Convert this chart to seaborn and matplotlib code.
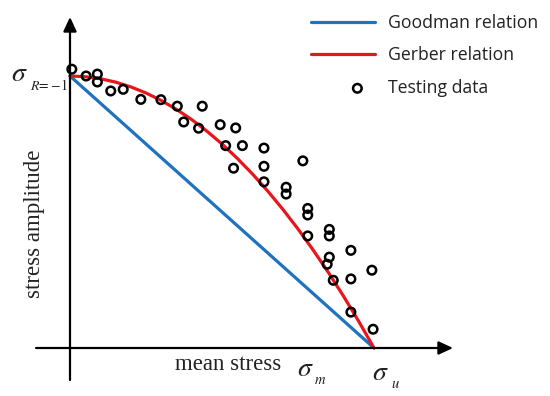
import matplotlib
matplotlib.use("Agg")
import matplotlib.pyplot as plt
import seaborn as sns
from matplotlib.legend_handler import HandlerPathCollection

# ---- data (normalised: sigma_m / sigma_u, sigma_a / sigma_R=-1) ----
goodman_x = [0.0, 1.0]
goodman_y = [1.0, 0.0]

gerber_x = [0.0, 0.05, 0.1, 0.15, 0.2, 0.25, 0.3, 0.35, 0.4, 0.45, 0.5, 0.55,
            0.6, 0.65, 0.7, 0.75, 0.8, 0.85, 0.9, 0.95, 1.0]
gerber_y = [1.0, 0.9975, 0.99, 0.9775, 0.96, 0.9375, 0.91, 0.8775, 0.84, 0.7975,
            0.75, 0.6975, 0.64, 0.5775, 0.51, 0.4375, 0.36, 0.2775, 0.19, 0.0975, 0.0]

test_x = [0.006, 0.053, 0.090, 0.090, 0.134, 0.175, 0.233, 0.299, 0.353, 0.435,
          0.374, 0.423, 0.494, 0.545, 0.512, 0.567, 0.538, 0.638, 0.638, 0.638,
          0.766, 0.711, 0.711, 0.782, 0.782, 0.782, 0.853, 0.853, 0.924, 0.853,
          0.846, 0.993, 0.866, 0.924, 0.924, 0.997]
test_y = [1.025, 1.000, 1.007, 0.978, 0.945, 0.951, 0.914, 0.913, 0.889, 0.889,
          0.831, 0.808, 0.821, 0.809, 0.744, 0.744, 0.661, 0.735, 0.668, 0.611,
          0.688, 0.591, 0.566, 0.513, 0.489, 0.412, 0.436, 0.412, 0.359, 0.334,
          0.308, 0.286, 0.249, 0.254, 0.132, 0.069]

labels = ["Goodman relation", "Gerber relation", "Testing data"]

sns.set_style("white")
plt.rcParams["font.family"] = ["Open Sans", "DejaVu Sans"]
plt.rcParams["mathtext.fontset"] = "stix"

fig = plt.figure(figsize=(5.5, 3.96), dpi=100)
ax = fig.add_axes([0, 0, 1, 1])
ax.set_xlim(-70 / 304, 480 / 304)
ax.set_ylim(-48 / 272, 348 / 272)
ax.axis("off")


def px(x, y):
    return (x - 70) / 304, (348 - y) / 272


blue = "#1f72c0"
red = "#e8161c"
ink = "#222222"

# axes with arrows
arrow = dict(arrowstyle="-|>,head_length=0.86,head_width=0.4", color="black",
             lw=1.6, shrinkA=0, shrinkB=0)
ax.annotate("", xy=px(453, 348), xytext=px(36, 348), arrowprops=arrow)
ax.annotate("", xy=px(70, 17), xytext=px(70, 380), arrowprops=arrow)

sns.lineplot(x=goodman_x, y=goodman_y, ax=ax, color=blue, lw=2.3,
             label=labels[0], sort=False)
sns.lineplot(x=gerber_x, y=gerber_y, ax=ax, color=red, lw=2.3,
             label=labels[1], sort=False)
sns.scatterplot(x=test_x, y=test_y, ax=ax, marker="o", s=38,
                facecolor="none", edgecolor="black", linewidth=1.8,
                label=labels[2], zorder=5)


class ShiftedPoints(HandlerPathCollection):
    def get_xdata(self, legend, xdescent, ydescent, width, height, fontsize):
        xd, xm = super().get_xdata(legend, xdescent, ydescent, width, height, fontsize)
        s = 0.23 * width
        return [v + s for v in xd], [v + s for v in xm]


handles, labs = ax.get_legend_handles_labels()
leg = ax.legend(handles, labs, loc="upper left",
                bbox_to_anchor=(311 / 550, 1 - 14 / 396),
                frameon=False, fontsize=12.7, handlelength=3.6,
                handletextpad=0.75, labelspacing=0.82, borderaxespad=0,
                borderpad=0,
                handler_map={type(handles[2]): ShiftedPoints()})
for t in leg.get_texts():
    t.set_color(ink)

serif = ["Liberation Serif", "DejaVu Serif"]
ax.text(*px(35, 224), "stress amplitude", rotation=90, ha="center",
        va="center", fontsize=16.5, family=serif, color=ink)
ax.text(*px(175, 365), "mean stress", ha="left", va="center",
        fontsize=16.5, family=serif, color=ink)

# sigma symbols with subscripts
ax.text(*px(297, 369), r"$\sigma$", ha="left", va="center", fontsize=20, color=ink)
ax.text(*px(314, 381), r"$m$", ha="left", va="center", fontsize=10.5, color=ink)
ax.text(*px(372, 373), r"$\sigma$", ha="left", va="center", fontsize=20, color=ink)
ax.text(*px(391, 385), r"$u$", ha="left", va="center", fontsize=10.5, color=ink)
ax.text(*px(11, 74), r"$\sigma$", ha="left", va="center", fontsize=20, color=ink)
ax.text(*px(30, 86), r"$R\!=\!-\!1$", ha="left", va="center", fontsize=10,
        color=ink)

fig.savefig("out.png", dpi=100)
